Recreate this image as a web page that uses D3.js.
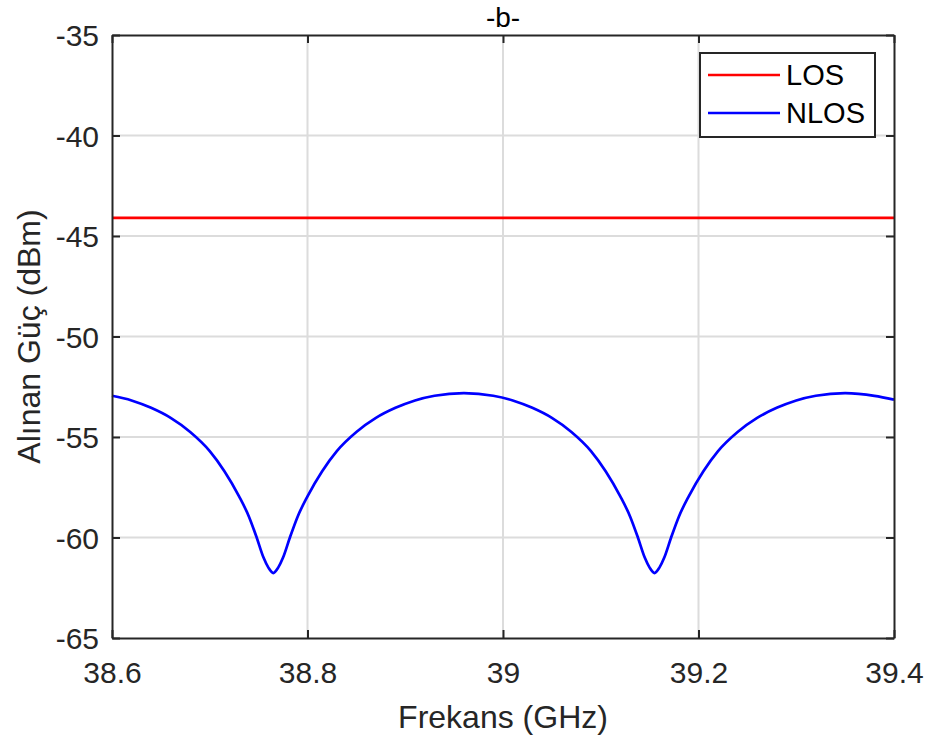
<!DOCTYPE html>
<html>
<head>
<meta charset="utf-8">
<script src="https://cdn.jsdelivr.net/npm/d3@7"></script>
<style>
  body { margin: 0; background: #fff; }
  text { font-family: Arial, "Liberation Sans", Helvetica, sans-serif; }
</style>
</head>
<body>
<svg id="chart" width="932" height="740"></svg>
<script>
const title = "-b-";
const xLabel = "Frekans (GHz)";
const yLabel = "Alınan Güç (dBm)";
const xTicks = [38.6, 38.8, 39.0, 39.2, 39.4];
const xTickLabels = ["38.6", "38.8", "39", "39.2", "39.4"];
const yTicks = [-35, -40, -45, -50, -55, -60, -65];
const yTickLabels = ["-35", "-40", "-45", "-50", "-55", "-60", "-65"];
const seriesNames = ["LOS", "NLOS"];

const losFreq = [38.6, 39.4];
const losPower = [-44.1, -44.1];

const nlosFreq = [38.600, 38.620, 38.640, 38.660, 38.680, 38.700, 38.715, 38.730, 38.740, 38.748,
  38.755, 38.760, 38.765, 38.770, 38.775, 38.782, 38.790, 38.800, 38.815, 38.830,
  38.850, 38.870, 38.890, 38.910, 38.930, 38.960, 38.990, 39.010, 39.030, 39.050,
  39.070, 39.090, 39.105, 39.120, 39.130, 39.138, 39.145, 39.150, 39.155, 39.160,
  39.165, 39.172, 39.180, 39.190, 39.205, 39.220, 39.240, 39.260, 39.280, 39.300,
  39.320, 39.350, 39.380, 39.400];
const nlosPower = [-52.95, -53.18, -53.55, -54.05, -54.75, -55.7, -56.7, -57.95, -58.95, -60.0,
  -61.0, -61.5, -61.77, -61.5, -61.0, -60.0, -58.95, -57.95, -56.7, -55.7,
  -54.75, -54.05, -53.55, -53.18, -52.95, -52.82, -52.95, -53.18, -53.55, -54.05,
  -54.75, -55.7, -56.7, -57.95, -58.95, -60.0, -61.0, -61.5, -61.77, -61.5,
  -61.0, -60.0, -58.95, -57.95, -56.7, -55.7, -54.75, -54.05, -53.55, -53.18,
  -52.95, -52.82, -52.95, -53.14];

const svg = d3.select("#chart");
const L = 112, R = 894, T = 35, B = 638;
const x = d3.scaleLinear().domain([38.6, 39.4]).range([L, R]);
const y = d3.scaleLinear().domain([-65, -35]).range([B, T]);
const axisColor = "#262626";

// grid
const g = svg.append("g");
g.selectAll(".vg").data(xTicks.slice(1, -1)).enter().append("line")
  .attr("x1", d => x(d)).attr("x2", d => x(d)).attr("y1", T).attr("y2", B)
  .attr("stroke", "#dcdcdc").attr("stroke-width", 2);
g.selectAll(".hg").data(yTicks.slice(1, -1)).enter().append("line")
  .attr("y1", d => y(d)).attr("y2", d => y(d)).attr("x1", L).attr("x2", R)
  .attr("stroke", "#dcdcdc").attr("stroke-width", 2);

// lines
const line = d3.line().x(d => x(d[0])).y(d => y(d[1])).curve(d3.curveMonotoneX);
svg.append("path").datum(d3.zip(losFreq, losPower)).attr("d", d3.line().x(d => x(d[0])).y(d => y(d[1])))
  .attr("fill", "none").attr("stroke", "#ff0000").attr("stroke-width", 2.7);
svg.append("path").datum(d3.zip(nlosFreq, nlosPower)).attr("d", line)
  .attr("fill", "none").attr("stroke", "#0000ff").attr("stroke-width", 2.7);

// axes (ticks inward, on all sides)
const tl = 8;
const fmtX = d => xTickLabels[xTicks.indexOf(d)];
const fmtY = d => yTickLabels[yTicks.indexOf(d)];
const axB = svg.append("g").attr("transform", `translate(0,${B})`)
  .call(d3.axisBottom(x).tickValues(xTicks).tickFormat(fmtX).tickSizeInner(-tl).tickSizeOuter(0).tickPadding(24));
const axT = svg.append("g").attr("transform", `translate(0,${T})`)
  .call(d3.axisTop(x).tickValues(xTicks).tickFormat("").tickSizeInner(-tl).tickSizeOuter(0));
const axL = svg.append("g").attr("transform", `translate(${L},0)`)
  .call(d3.axisLeft(y).tickValues(yTicks).tickFormat(fmtY).tickSizeInner(-tl).tickSizeOuter(0).tickPadding(13));
const axR = svg.append("g").attr("transform", `translate(${R},0)`)
  .call(d3.axisRight(y).tickValues(yTicks).tickFormat("").tickSizeInner(-tl).tickSizeOuter(0));
[axB, axT, axL, axR].forEach(a => {
  a.attr("font-size", null).attr("font-family", null);
  a.select(".domain").attr("stroke", axisColor).attr("stroke-width", 2);
  a.selectAll(".tick line").attr("stroke", axisColor).attr("stroke-width", 2);
  a.selectAll(".tick text").attr("fill", axisColor).style("font-size", "30px");
});
axL.selectAll(".tick text").attr("dy", "0.35em");
axB.selectAll(".tick text").attr("dy", "0.71em");

// labels
svg.append("text").attr("x", (L + R) / 2).attr("y", 728).attr("text-anchor", "middle")
  .attr("fill", axisColor).style("font-size", "32px").text(xLabel);
svg.append("text").attr("transform", `translate(40,${(T + B) / 2}) rotate(-90)`).attr("text-anchor", "middle")
  .attr("fill", axisColor).style("font-size", "32px").text(yLabel);
svg.append("text").attr("x", (L + R) / 2).attr("y", 27).attr("text-anchor", "middle")
  .attr("fill", "#000").style("font-size", "28px").text(title);

// legend
const lg = svg.append("g");
lg.append("rect").attr("x", 700).attr("y", 53).attr("width", 175).attr("height", 84)
  .attr("fill", "#fff").attr("stroke", axisColor).attr("stroke-width", 2);
const colors = ["#ff0000", "#0000ff"];
seriesNames.forEach((n, i) => {
  const yy = 75 + i * 38;
  lg.append("line").attr("x1", 708).attr("x2", 780).attr("y1", yy).attr("y2", yy)
    .attr("stroke", colors[i]).attr("stroke-width", 2.5);
  lg.append("text").attr("x", 786).attr("y", yy).attr("dy", "0.36em")
    .attr("fill", "#000").style("font-size", "29px").text(n);
});
</script>
</body>
</html>
